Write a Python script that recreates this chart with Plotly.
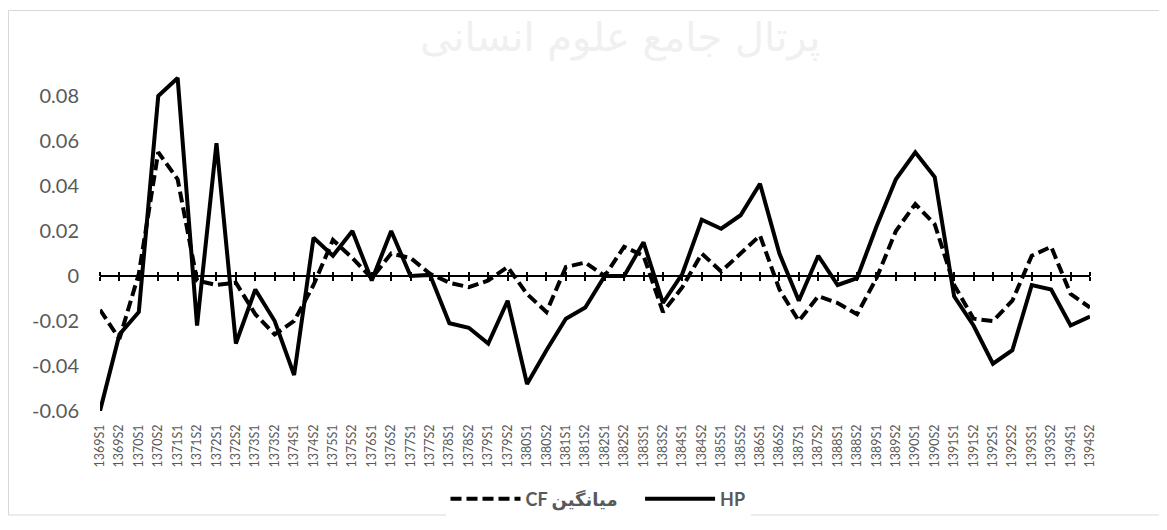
import plotly.graph_objects as go

years = list(range(1369, 1395))
categories = [f"{y}S{s}" for y in years for s in (1, 2)]

hp = [-0.060, -0.026, -0.016, 0.080, 0.088, -0.022, 0.059, -0.030, -0.006, -0.020,
      -0.044, 0.017, 0.009, 0.020, -0.002, 0.020, 0.000, 0.0005, -0.021, -0.023,
      -0.030, -0.011, -0.048, -0.033, -0.019, -0.014, 0.000, 0.000, 0.015, -0.012,
      0.001, 0.025, 0.021, 0.027, 0.041, 0.010, -0.011, 0.009, -0.004, -0.001,
      0.022, 0.043, 0.055, 0.044, -0.009, -0.022, -0.039, -0.033, -0.004, -0.006,
      -0.022, -0.018]

cf = [-0.015, -0.028, 0.001, 0.055, 0.043, -0.002, -0.004, -0.003, -0.017, -0.026,
      -0.020, -0.004, 0.016, 0.008, -0.001, 0.010, 0.008, 0.001, -0.003, -0.005,
      -0.002, 0.004, -0.008, -0.016, 0.004, 0.006, 0.000, 0.013, 0.009, -0.016,
      -0.005, 0.010, 0.002, 0.010, 0.018, -0.006, -0.020, -0.009, -0.012, -0.017,
      -0.001, 0.020, 0.032, 0.023, -0.004, -0.019, -0.020, -0.011, 0.009, 0.013,
      -0.008, -0.014]

ytick_vals = [-0.06, -0.04, -0.02, 0, 0.02, 0.04, 0.06, 0.08]
ytick_text = ["-0.06", "-0.04", "-0.02", "0", "0.02", "0.04", "0.06", "0.08"]

name_cf = "\u202bمیانگین CF\u202c" + "\u00a0" * 4
name_hp = "HP"

YMIN, YMAX = -0.06, 0.1
FONT = "Lato, 'DejaVu Sans', sans-serif"
GRAY = "#595959"

# page body has an 8px margin; plot area wanted at screen x 100..1090, y 51..411
L, T, PW, PH = 92, 43, 990, 360
W, H = 1167, 530

fig = go.Figure()
fig.add_trace(go.Scatter(x=categories, y=cf, name=name_cf, mode="lines",
                         line=dict(color="black", width=4, dash="11px,5px")))
fig.add_trace(go.Scatter(x=categories, y=hp, name=name_hp, mode="lines",
                         line=dict(color="black", width=4)))
# invisible helper traces so the zero-crossing tick axes are drawn
for ax in ("x2", "x3"):
    fig.add_trace(go.Scatter(x=categories, y=hp, xaxis=ax, yaxis="y", mode="lines",
                             line=dict(width=0), opacity=0, showlegend=False,
                             hoverinfo="skip"))

zero_pos = (0 - YMIN) / (YMAX - YMIN)
xr = [0, len(categories) - 1]

common_x = dict(type="category", range=xr, showgrid=False, zeroline=False,
                categoryorder="array", categoryarray=categories)


def px_x(sx):
    return (sx - 8 - L) / PW


def px_y(sy):
    return (T + PH - (sy - 8)) / PH


fig.update_layout(
    width=W, height=H,
    margin=dict(l=L, r=W - L - PW, t=T, b=H - T - PH, autoexpand=False),
    paper_bgcolor="white", plot_bgcolor="white",
    showlegend=True,
    legend=dict(orientation="h", x=px_x(598), xanchor="center", y=px_y(499), yanchor="middle",
                font=dict(family=FONT, size=18, color=GRAY, weight="bold"),
                itemwidth=70, traceorder="normal"),
    xaxis=dict(**common_x, showline=False, ticks="", tickangle=-90, ticklabelstandoff=10,
               tickfont=dict(family=FONT, size=12.5, color=GRAY)),
    xaxis2=dict(**common_x, overlaying="x", anchor="free", position=zero_pos,
                showline=True, linecolor="black", linewidth=1.5,
                ticks="outside", ticklen=4, tickwidth=1.5, tickcolor="black",
                showticklabels=False),
    xaxis3=dict(**common_x, overlaying="x", anchor="free", position=zero_pos,
                showline=False, side="top",
                ticks="outside", ticklen=4, tickwidth=1.5, tickcolor="black",
                showticklabels=False),
    yaxis=dict(range=[YMIN, YMAX], showgrid=False, zeroline=False, showline=False,
               tickmode="array", tickvals=ytick_vals, ticktext=ytick_text,
               ticks="", ticklabelstandoff=20,
               tickfont=dict(family=FONT, size=20, color=GRAY)),
    shapes=[dict(type="rect", xref="paper", yref="paper",
                 x0=px_x(8.5), x1=px_x(1160), y0=px_y(515), y1=px_y(10.5),
                 line=dict(color="#d9d9d9", width=1), layer="below")],
    annotations=[dict(text="پرتال جامع علوم انسانی", xref="paper", yref="paper",
                      x=px_x(620), y=px_y(12), showarrow=False,
                      font=dict(family="'DejaVu Sans', sans-serif", size=40, color="#f0f0f0"))],
)

fig.write_html("out.html")
